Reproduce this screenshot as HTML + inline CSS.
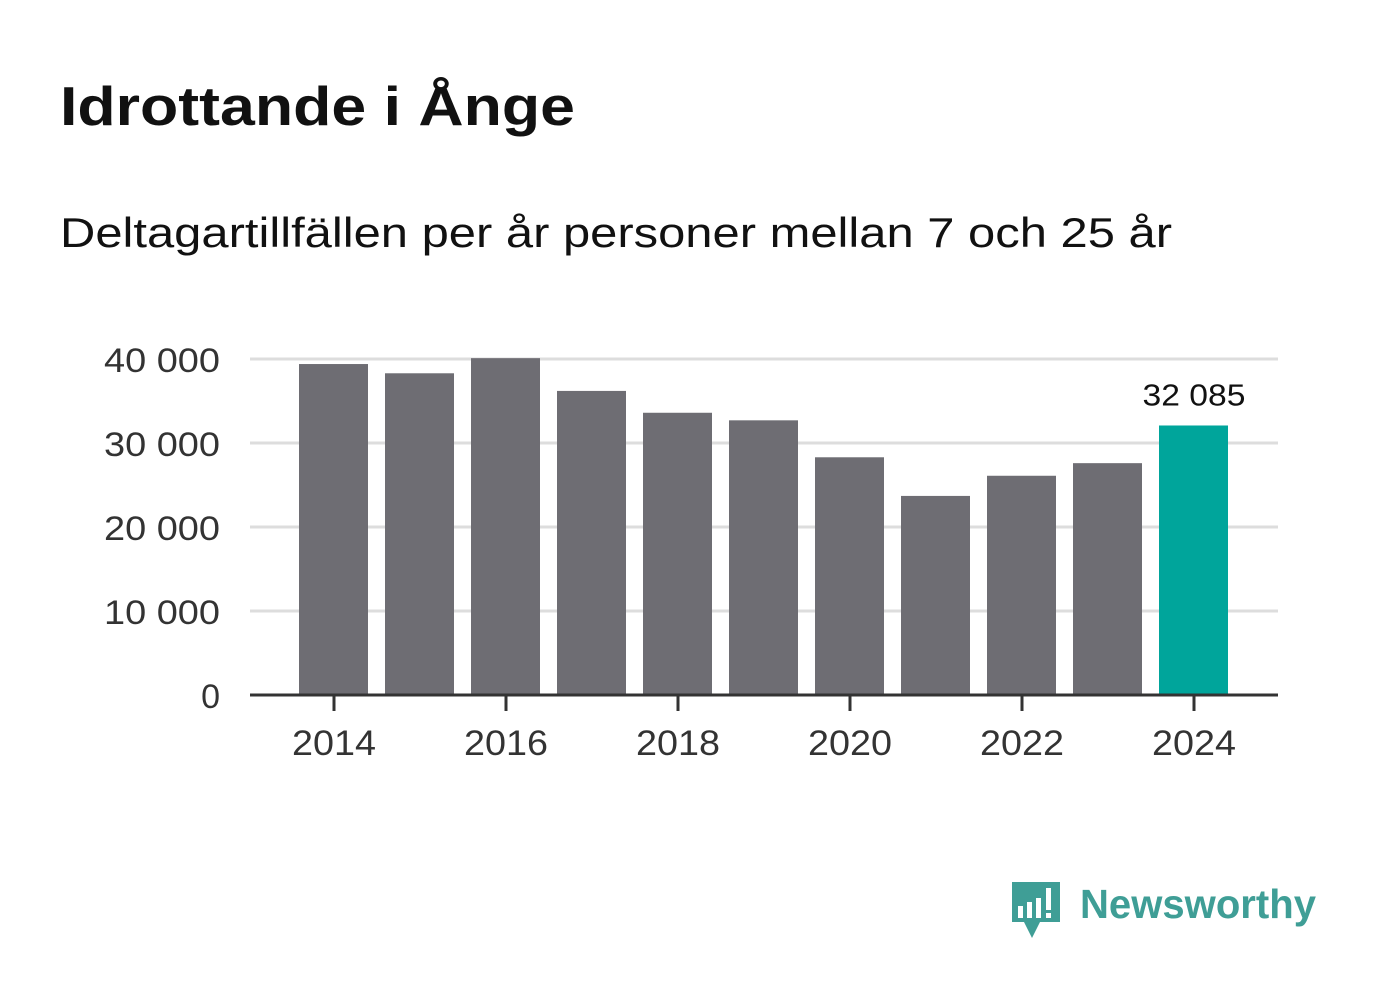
<!DOCTYPE html>
<html><head><meta charset="utf-8"><style>
body{margin:0;background:#fff;width:1382px;height:999px;overflow:hidden;font-family:"Liberation Sans","DejaVu Sans",sans-serif}
</style></head><body>
<svg id="chart" width="1382" height="999" xmlns="http://www.w3.org/2000/svg">
<text x="60" y="125" font-size="55" font-weight="bold" fill="#111" textLength="515" lengthAdjust="spacingAndGlyphs">Idrottande i Ånge</text>
<text x="60" y="247" font-size="42" fill="#111" textLength="1112" lengthAdjust="spacingAndGlyphs">Deltagartillfällen per år personer mellan 7 och 25 år</text>
<g id="grid"></g><g id="bars"></g><g id="axes"></g>
<g>
<path d="M1012 882 h48 v40 h-20 l-8 16 l-8-16 h-12 z" fill="#3f9e96"/>
<rect x="1018" y="906" width="5" height="12" fill="#fff"/><rect x="1027" y="902" width="5" height="16" fill="#fff"/><rect x="1036" y="898" width="5" height="20" fill="#fff"/><rect x="1046" y="888" width="5" height="22" fill="#fff"/><rect x="1046" y="913" width="5" height="5" fill="#fff"/>
<text x="1080" y="918" font-size="41" font-weight="bold" fill="#3f9e96" textLength="236" lengthAdjust="spacingAndGlyphs">Newsworthy</text>
</g>
</svg>
<script>
const years=[2014,2015,2016,2017,2018,2019,2020,2021,2022,2023,2024];
const values=[39400,38300,40100,36200,33600,32700,28300,23700,26100,27600,32085];
const yTicks=[0,10000,20000,30000,40000];
const yTickLabels=["0","10 000","20 000","30 000","40 000"];
const xTickYears=[2014,2016,2018,2020,2022,2024];
const NS="http://www.w3.org/2000/svg";
const y=v=>695-v*336/40000;
const x=yr=>334+(yr-2014)*86;
function mk(t,a,p){const e=document.createElementNS(NS,t);for(const k in a)e.setAttribute(k,a[k]);p.appendChild(e);return e;}
const grid=document.getElementById('grid'),bars=document.getElementById('bars'),axes=document.getElementById('axes');
yTicks.forEach((v,i)=>{
 if(v>0){const l=mk('line',{x1:250,x2:1278,y1:y(v),y2:y(v),stroke:'#ddd','stroke-width':3},grid);
 
 }
 const a={x:220,y:y(v)+13,'font-size':34,fill:'#333','text-anchor':'end'};
 if(v>0){a.textLength=116;a.lengthAdjust='spacingAndGlyphs';}
 const t=mk('text',a,axes);t.textContent=yTickLabels[i];
 
 
});
years.forEach((yr,i)=>{
 const last=i===years.length-1;
 const r=mk('rect',{x:x(yr)-35,y:y(values[i]),width:69,height:695-y(values[i]),fill:last?'#00a59b':'#6e6d73'},bars);
 
 
 if(last){const t=mk('text',{x:x(yr),y:y(values[i])-20,'font-size':31,fill:'#111','text-anchor':'middle',textLength:103,lengthAdjust:'spacingAndGlyphs'},axes);
 t.textContent=values[i].toLocaleString('sv-SE').replace(/\s/g,' ');
 
 }
});
const ax=mk('line',{x1:250,x2:1278,y1:695,y2:695,stroke:'#333','stroke-width':3},axes);


xTickYears.forEach(yr=>{
 mk('line',{x1:x(yr),x2:x(yr),y1:695,y2:711,stroke:'#333','stroke-width':3},axes);
 const t=mk('text',{x:x(yr),y:755,'font-size':35,fill:'#333','text-anchor':'middle',textLength:84,lengthAdjust:'spacingAndGlyphs'},axes);t.textContent=yr;
 
 
});
</script>
</body></html>
